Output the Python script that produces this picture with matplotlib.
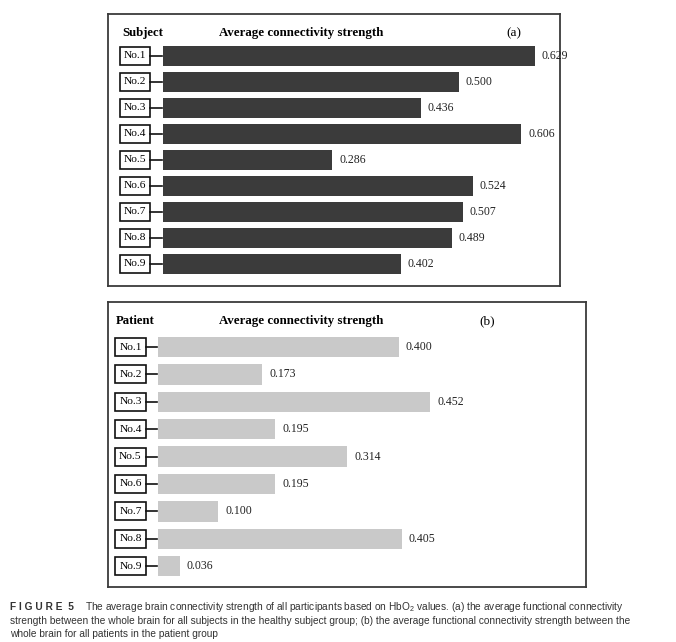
import matplotlib.pyplot as plt
import matplotlib.patches as mpatches

plt.rcParams['font.family'] = ['Liberation Serif', 'DejaVu Serif']
plt.rcParams['mathtext.fontset'] = 'custom'
plt.rcParams['mathtext.rm'] = 'Liberation Sans'

# Données
subject_labels = ["No.1", "No.2", "No.3", "No.4", "No.5", "No.6", "No.7", "No.8", "No.9"]
subject_values = [0.629, 0.500, 0.436, 0.606, 0.286, 0.524, 0.507, 0.489, 0.402]
patient_labels = ["No.1", "No.2", "No.3", "No.4", "No.5", "No.6", "No.7", "No.8", "No.9"]
patient_values = [0.400, 0.173, 0.452, 0.195, 0.314, 0.195, 0.100, 0.405, 0.036]

W, H = 676, 642
fig = plt.figure(figsize=(W / 100, H / 100), dpi=100)


def panel(box, bar_x0, scale, row0, row_step, labels, values, color,
          group, tag, group_x, title_x, tag_x, head_y, lab_x0, lab_x1):
    left, top, right, bottom = box
    ax = fig.add_axes([left / W, 1 - bottom / H, (right - left) / W, (bottom - top) / H])
    xmin = -(bar_x0 - left) / scale
    xmax = (right - bar_x0) / scale
    ymin = -(row0 - top) / row_step
    ymax = (bottom - row0) / row_step
    ax.set_xlim(xmin, xmax)
    ax.set_ylim(ymax, ymin)
    ax.set_xticks([])
    ax.set_yticks([])
    for s in ax.spines.values():
        s.set_color("#3a3a3a")
        s.set_linewidth(1.3)

    ys = list(range(len(values)))
    ax.barh(ys, values, height=0.74, color=color, zorder=2)
    for y, v in zip(ys, values):
        ax.text(v + 7 / scale, y, f"{v:.3f}", ha="left", va="center", fontsize=8.5, color="#222222")

    # étiquettes encadrées + petit trait de liaison
    lx0 = (lab_x0 - bar_x0) / scale
    lx1 = (lab_x1 - bar_x0) / scale
    bh = 18 / row_step
    for y, lab in zip(ys, labels):
        rect = mpatches.Rectangle((lx0, y - bh / 2), lx1 - lx0, bh, facecolor="white",
                                  edgecolor="#111111", linewidth=1.2, zorder=3)
        ax.add_patch(rect)
        ax.text((lx0 + lx1) / 2, y, lab, ha="center", va="center", fontsize=8.2, zorder=4)
        ax.plot([lx1, -1 / scale], [y, y], color="#111111", linewidth=1.2, zorder=3)

    hy = (head_y - row0) / row_step
    ax.text((group_x - bar_x0) / scale, hy, group, ha="left", va="center",
            fontsize=9.2, fontweight="bold")
    ax.text((title_x - bar_x0) / scale, hy, "Average connectivity strength", ha="center",
            va="center", fontsize=9.3, fontweight="bold")
    ax.text((tag_x - bar_x0) / scale, hy, tag, ha="center", va="center", fontsize=9.5)
    return ax


panel((108, 14, 560, 286), 163, 591, 56, 26, subject_labels, subject_values, "#3b3b3b",
      "Subject", "(a)", 122, 301, 514, 33, 120, 150)
panel((108, 302, 586, 587), 158, 602, 347, 27.4, patient_labels, patient_values, "#c9c9c9",
      "Patient", "(b)", 116, 301, 487, 321, 115, 146)

cap = dict(fontsize=7.3, family=['Liberation Sans', 'DejaVu Sans'], color="#333333",
           ha="left", va="center")
fig.text(10 / W, 1 - 607 / H, "F I G U R E  5", fontweight="bold", **cap)
fig.text(85 / W, 1 - 607 / H,
         "The average brain connectivity strength of all participants based on HbO$_2$ values. "
         "(a) the average functional connectivity", **cap)
fig.text(10 / W, 1 - 621 / H,
         "strength between the whole brain for all subjects in the healthy subject group; "
         "(b) the average functional connectivity strength between the", **cap)
fig.text(10 / W, 1 - 634 / H, "whole brain for all patients in the patient group", **cap)

fig.savefig("out.png", dpi=100)
